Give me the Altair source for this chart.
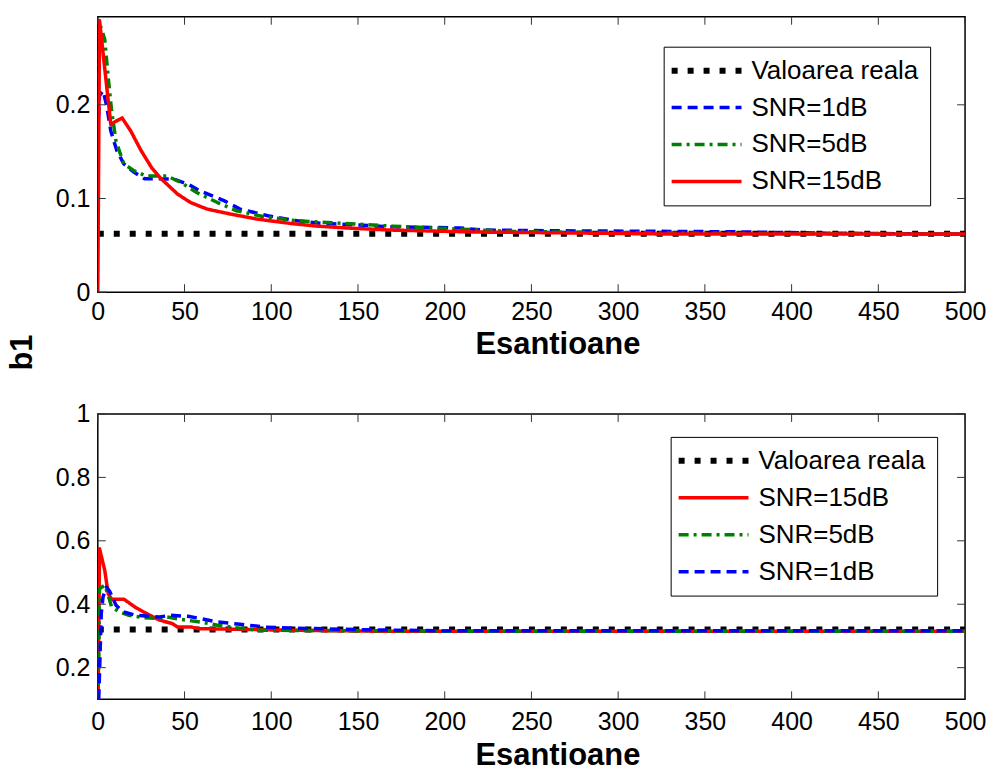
import altair as alt
import pandas as pd

# ---- axis ticks -------------------------------------------------------------
x_ticks = [0, 50, 100, 150, 200, 250, 300, 350, 400, 450, 500]
top_y_ticks = [0, 0.1, 0.2]
bottom_y_ticks = [0.2, 0.4, 0.6, 0.8, 1.0]

REAL = "Valoarea reala"
S1 = "SNR=1dB"
S5 = "SNR=5dB"
S15 = "SNR=15dB"

# ---- top panel: estimates of b1 ---------------------------------------------
top_real_n = [0, 500]
top_real_v = [0.0625, 0.0625]

top_snr1_n = [0, 1, 3, 5, 7.5, 11, 15, 21, 27, 34, 44, 52, 59, 73, 82, 98, 115, 130, 146, 169, 209, 222, 260, 330, 366, 420, 500]
top_snr1_v = [0.17, 0.21, 0.215, 0.2, 0.172, 0.151, 0.137, 0.128, 0.121, 0.121, 0.1206, 0.1153, 0.108, 0.0975, 0.0887, 0.0816, 0.0762, 0.0734, 0.072, 0.0699, 0.0685, 0.0663, 0.0656, 0.0649, 0.0645, 0.063, 0.062]

top_snr5_n = [0, 1, 4, 6, 8, 10.5, 15, 21, 28, 40, 48, 57, 69, 80, 96, 115, 142, 170, 200, 240, 300, 400, 500]
top_snr5_v = [0.2, 0.287, 0.27, 0.229, 0.193, 0.161, 0.137, 0.1295, 0.124, 0.124, 0.117, 0.1064, 0.0957, 0.0869, 0.0805, 0.0762, 0.0734, 0.0705, 0.068, 0.0648, 0.0635, 0.0625, 0.062]

top_snr15_n = [0, 1, 7.5, 10, 14, 19, 25, 31, 36, 46, 53.5, 63, 76.5, 92, 111, 126, 144, 169, 218, 260, 328, 400, 500]
top_snr15_v = [0, 0.29, 0.179, 0.182, 0.186, 0.172, 0.151, 0.133, 0.122, 0.1047, 0.0957, 0.0887, 0.0834, 0.078, 0.0734, 0.0706, 0.0685, 0.0663, 0.0642, 0.0635, 0.0621, 0.0621, 0.062]

# ---- bottom panel ------------------------------------------------------------
bot_real_n = [0, 500]
bot_real_v = [0.32, 0.32]

bot_snr15_n = [0, 1, 4, 6, 8, 15, 22, 28, 35.5, 43, 46, 54, 58, 80, 111, 160, 250, 350, 500]
bot_snr15_v = [0.0, 0.575, 0.507, 0.433, 0.416, 0.416, 0.389, 0.371, 0.35, 0.339, 0.328, 0.328, 0.323, 0.321, 0.318, 0.315, 0.315, 0.315, 0.315]

bot_snr5_n = [0, 1, 4, 6, 8, 12.5, 18, 26, 35.5, 40, 48, 59, 69, 78, 92, 130, 200, 300, 500]
bot_snr5_v = [0.0, 0.449, 0.46, 0.428, 0.391, 0.376, 0.365, 0.358, 0.355, 0.36, 0.352, 0.344, 0.334, 0.327, 0.318, 0.317, 0.315, 0.315, 0.315]

bot_snr1_n = [0, 2, 3, 5, 7, 10.5, 14.5, 22, 35.5, 42, 52, 59, 69, 82, 96, 111, 150, 200, 300, 500]
bot_snr1_v = [0.0, 0.371, 0.423, 0.454, 0.439, 0.397, 0.376, 0.365, 0.36, 0.365, 0.362, 0.355, 0.344, 0.337, 0.328, 0.325, 0.32, 0.316, 0.316, 0.316]

# ---- styles -------------------------------------------------------------------
STYLE = {
    REAL: ("#000000", [6, 10], 6),
    S1: ("#0000ff", [10, 6], 3.5),
    S5: ("#008000", [10, 5, 3, 5], 3.5),
    S15: ("#ff0000", [1, 0], 3.5),
}
FONT = "Liberation Sans"
TICK_LEN = 8
W = 869


def make_panel(series, y_domain, y_ticks, height, legend_x, legend_y, y_title,
               x_label_pad, x_title_pad):
    order = [name for name, _, _ in series]
    rows = []
    for name, ns, vs in series:
        for n, v in zip(ns, vs):
            rows.append({"serie": name, "n": n, "v": v})
    df = pd.DataFrame(rows)

    x_scale = alt.Scale(domain=[0, 500], nice=False, zero=False)
    y_scale = alt.Scale(domain=y_domain, nice=False, zero=False)

    x_axis = alt.Axis(values=x_ticks, title="Esantioane", labelFlush=False,
                      labelPadding=x_label_pad, titlePadding=x_title_pad,
                      titleX=W / 2 + 26)
    if y_title:
        y_axis = alt.Axis(values=y_ticks, format="~g", title=y_title,
                          titleX=-59, titleY=336, titleAngle=270,
                          titleBaseline="bottom", titleAlign="center")
    else:
        y_axis = alt.Axis(values=y_ticks, format="~g", title=None)

    legend = alt.Legend(
        title=None, orient="none", legendX=legend_x, legendY=legend_y,
        symbolType="stroke", symbolSize=4900, symbolOffset=19,
        symbolStrokeWidth=alt.ExprRef(f"datum.value === '{REAL}' ? 6 : 3.5"),
        labelFont=FONT, labelFontSize=26, labelColor="black", labelOffset=32,
        rowPadding=11, padding=11, strokeColor="black", fillColor="white",
        cornerRadius=0, labelLimit=400,
    )
    color = alt.Color("serie:N", scale=alt.Scale(domain=order, range=[STYLE[s][0] for s in order]), legend=legend)
    dash = alt.StrokeDash("serie:N", scale=alt.Scale(domain=order, range=[STYLE[s][1] for s in order]), legend=legend)

    layers = []
    for name in order:
        layers.append(
            alt.Chart(df).transform_filter(alt.datum.serie == name)
            .mark_line(clip=True, strokeCap="butt", strokeJoin="round")
            .encode(
                x=alt.X("n:Q", scale=x_scale, axis=x_axis),
                y=alt.Y("v:Q", scale=y_scale, axis=y_axis),
                color=color, strokeDash=dash,
                strokeWidth=alt.value(STYLE[name][2]),
            )
        )

    # inward tick marks on all four sides of the box
    xt = pd.DataFrame({"t": x_ticks})
    yt = pd.DataFrame({"t": y_ticks})
    tick = dict(color="#333333", strokeWidth=1)
    xe = alt.X("t:Q", scale=x_scale, axis=x_axis)
    ye = alt.Y("t:Q", scale=y_scale, axis=y_axis)
    layers += [
        alt.Chart(xt).mark_rule(**tick).encode(x=xe, y=alt.value(height), y2=alt.value(height - TICK_LEN)),
        alt.Chart(xt).mark_rule(**tick).encode(x=xe, y=alt.value(0), y2=alt.value(TICK_LEN)),
        alt.Chart(yt).mark_rule(**tick).encode(y=ye, x=alt.value(0), x2=alt.value(TICK_LEN)),
        alt.Chart(yt).mark_rule(**tick).encode(y=ye, x=alt.value(W), x2=alt.value(W - TICK_LEN)),
    ]
    return alt.layer(*layers).properties(width=W, height=height)


top = make_panel(
    [(REAL, top_real_n, top_real_v), (S1, top_snr1_n, top_snr1_v),
     (S5, top_snr5_n, top_snr5_v), (S15, top_snr15_n, top_snr15_v)],
    [0, 0.294], top_y_ticks, 276, 567, 30, "b1", 7, 5,
)
bottom = make_panel(
    [(REAL, bot_real_n, bot_real_v), (S15, bot_snr15_n, bot_snr15_v),
     (S5, bot_snr5_n, bot_snr5_v), (S1, bot_snr1_n, bot_snr1_v)],
    [0.1, 1.0], bottom_y_ticks, 286, 574, 23, None, 10, 6,
)

chart = (
    alt.vconcat(top, bottom, spacing=122, bounds="flush")
    .resolve_scale(color="independent", strokeDash="independent", x="independent", y="independent")
    .resolve_legend(color="independent", strokeDash="independent")
    .properties(padding={"left": 6, "top": 14, "right": 5, "bottom": 5}, background="white")
    .configure_view(stroke="black", strokeWidth=1.5)
    .configure_axis(
        domain=False, ticks=False, grid=False,
        labelFont=FONT, labelFontSize=25, labelColor="black",
        titleFont=FONT, titleFontSize=31, titleFontWeight="bold", titleColor="black",
    )
    .configure_axisY(labelPadding=8)
)

chart.save("out.html", embed_options={"renderer": "svg", "actions": False})
